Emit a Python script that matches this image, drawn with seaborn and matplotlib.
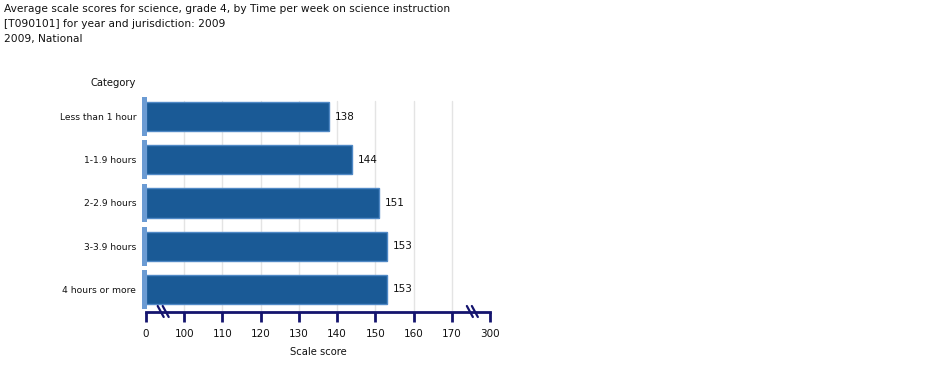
import numpy as np
import pandas as pd
import seaborn as sns
import matplotlib.pyplot as plt
from matplotlib.lines import Line2D
from matplotlib.transforms import IdentityTransform

# data
categories = ['Less than 1 hour', '1-1.9 hours', '2-2.9 hours', '3-3.9 hours', '4 hours or more']
scores = [138, 144, 151, 153, 153]
tick_values = [0, 100, 110, 120, 130, 140, 150, 160, 170, 300]
grid_values = [100, 110, 120, 130, 140, 150, 160, 170]

title_lines = ['Average scale scores for science, grade 4, by Time per week on science instruction',
               '[T090101] for year and jurisdiction: 2009',
               '2009, National']

df = pd.DataFrame({'Category': categories, 'Score': scores})

# broken axis: 0..100 squeezed, 100..170 linear, 170..300 squeezed
def fwd(v):
    v = np.asarray(v, dtype=float)
    return np.where(v <= 100, v / 100.0,
                    np.where(v <= 170, 1 + (v - 100) / 10.0, 8 + (v - 170) / 130.0))

def inv(p):
    p = np.asarray(p, dtype=float)
    return np.where(p <= 1, p * 100.0,
                    np.where(p <= 8, 100 + (p - 1) * 10.0, 170 + (p - 8) * 130.0))

sns.set_style('white')
plt.rcParams['font.family'] = ['DejaVu Sans']

W, H = 940, 371
fig = plt.figure(figsize=(W / 100, H / 100), dpi=100)
ax = fig.add_axes([146 / W, (H - 311) / H, 344 / W, 216 / H])

navy = '#14146e'
bar_col = '#1a5a96'

ax.set_xscale('function', functions=(fwd, inv))
ax.set_xlim(0, 300)

for g in grid_values:
    ax.axvline(g, color='#e4e4e4', lw=1, ymax=0.97, zorder=0)

sns.barplot(data=df, x='Score', y='Category', order=categories, orient='h',
            color=bar_col, width=0.68, saturation=1, ax=ax, zorder=2,
            edgecolor='#5089c6', linewidth=1)

# light blue stubs at the base of each band
ax.barh(range(len(categories)), 13, left=-10, height=0.9, color='#6b9bd3',
        clip_on=False, zorder=3, linewidth=0)

for i, s in enumerate(scores):
    ax.annotate(str(s), (s, i), xytext=(4, 0), textcoords='offset points',
                va='center', ha='left', fontsize=7.5, color='#111111')

ax.set_ylim(len(categories) - 0.5, -0.5)
for sp in ['top', 'right', 'left']:
    ax.spines[sp].set_visible(False)
ax.spines['bottom'].set_color(navy)
ax.spines['bottom'].set_linewidth(2)
ax.spines['bottom'].set_position(('outward', 1))

ax.set_xticks(tick_values)
ax.set_xticklabels([str(t) for t in tick_values])
ax.xaxis.set_minor_locator(plt.NullLocator())
ax.tick_params(axis='x', direction='out', length=7, width=2, color=navy,
               labelsize=7.5, labelcolor='#111111', pad=5, bottom=True)
ax.tick_params(axis='y', length=0, labelsize=6.6, labelcolor='#111111', pad=7)
ax.set_xlabel('')
ax.set_ylabel('')

# break marks on the axis
fig.canvas.draw()
y_axis = H - 312
for bv in [45, 240]:
    xc = ax.transData.transform((bv, 0))[0]
    for off in (-2.5, 2.5):
        fig.add_artist(Line2D([xc + off - 3, xc + off + 3], [y_axis + 6, y_axis - 5],
                              transform=IdentityTransform(), color=navy, lw=1.6))

for k, line in enumerate(title_lines):
    fig.text(4 / W, 1 - (9 + 15 * k) / H, line, fontsize=7.7, va='center', ha='left', color='#111111')

fig.text(136 / W, 1 - 83 / H, 'Category', fontsize=7.2, ha='right', va='center', color='#111111')
fig.text(318 / W, 1 - 352 / H, 'Scale score', fontsize=7.2, ha='center', va='center', color='#111111')

fig.savefig('out.png', dpi=100)
plt.close(fig)
